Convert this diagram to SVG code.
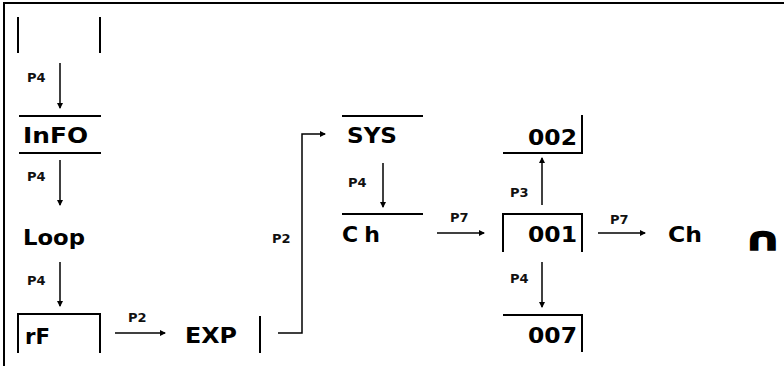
<svg xmlns="http://www.w3.org/2000/svg" width="784" height="366" viewBox="0 0 784 366">
<style>
.b{stroke:#000;stroke-width:2;fill:none}
.t{font-family:"DejaVu Sans",Verdana,sans-serif;font-weight:bold;font-size:22px;fill:#000}
.l{font-family:"DejaVu Sans",Verdana,sans-serif;font-weight:bold;font-size:13px;fill:#111}
.c{stroke:#000;stroke-width:1.5;fill:none;marker-end:url(#ah)}
</style>
<defs>
<marker id="ah" viewBox="0 0 6 6" refX="5" refY="3" markerWidth="4" markerHeight="4" orient="auto" markerUnits="strokeWidth">
<path d="M0,0 L6,3 L0,6 z" fill="#000"/>
</marker>
</defs>
<rect width="784" height="366" fill="#fff"/>
<path class="b" d="M4,366 V3 H784"/>
<g id="top"><path class="b" d="M18,17 V53 M100,17 V53"/></g>
<g id="info"><path class="b" d="M19,116 H101 M19,153 H101"/><text class="t" x="23" y="143" textLength="65" lengthAdjust="spacingAndGlyphs">InFO</text></g>
<g id="loop"><text class="t" x="23" y="245" textLength="62" lengthAdjust="spacingAndGlyphs">Loop</text></g>
<g id="rf"><path class="b" d="M18,353 V314 H100 V353"/><text class="t" x="25" y="344" textLength="25" lengthAdjust="spacingAndGlyphs">rF</text></g>
<g id="exp"><path class="b" d="M260,316 V353"/><text class="t" x="185" y="343" textLength="52" lengthAdjust="spacingAndGlyphs">EXP</text></g>
<g id="sys"><path class="b" d="M342,116 H423"/><text class="t" x="347" y="143" textLength="50" lengthAdjust="spacingAndGlyphs">SYS</text></g>
<g id="ch1"><path class="b" d="M342,214 H423"/><text class="t" x="342" y="242" textLength="38" lengthAdjust="spacing">Ch</text></g>
<g id="n002"><path class="b" d="M582,115 V153 H503"/><text class="t" x="528" y="145" textLength="49" lengthAdjust="spacingAndGlyphs">002</text></g>
<g id="n001"><path class="b" d="M503,252 V214 H582 V252"/><text class="t" x="528" y="242" textLength="49" lengthAdjust="spacingAndGlyphs">001</text></g>
<g id="n007"><path class="b" d="M503,315 H582 V352"/><text class="t" x="528" y="343" textLength="49" lengthAdjust="spacingAndGlyphs">007</text></g>
<g id="ch2"><text class="t" x="668" y="242" textLength="34" lengthAdjust="spacingAndGlyphs">Ch</text></g>
<g id="cap"><text class="t" transform="translate(744,250) scale(1.45,1)" x="0" y="0" style="font-size:32px;stroke:#000;stroke-width:1.5">∩</text></g>
<g id="connectors">
<path class="c" d="M60,63 V108"/><text class="l" x="27" y="82">P4</text>
<path class="c" d="M60,160 V205"/><text class="l" x="27" y="181">P4</text>
<path class="c" d="M60,262 V306"/><text class="l" x="27" y="285">P4</text>
<path class="c" d="M115,333 H165"/><text class="l" x="128" y="322">P2</text>
<path class="c" d="M278,333 H302 V134 H325"/><text class="l" x="272" y="243">P2</text>
<path class="c" d="M383,163 V207"/><text class="l" x="348" y="187">P4</text>
<path class="c" d="M437,233 H484"/><text class="l" x="450" y="222">P7</text>
<path class="c" d="M542,205 V158"/><text class="l" x="510" y="197">P3</text>
<path class="c" d="M598,233 H645"/><text class="l" x="610" y="224">P7</text>
<path class="c" d="M542,262 V307"/><text class="l" x="510" y="283">P4</text>
</g>
</svg>
